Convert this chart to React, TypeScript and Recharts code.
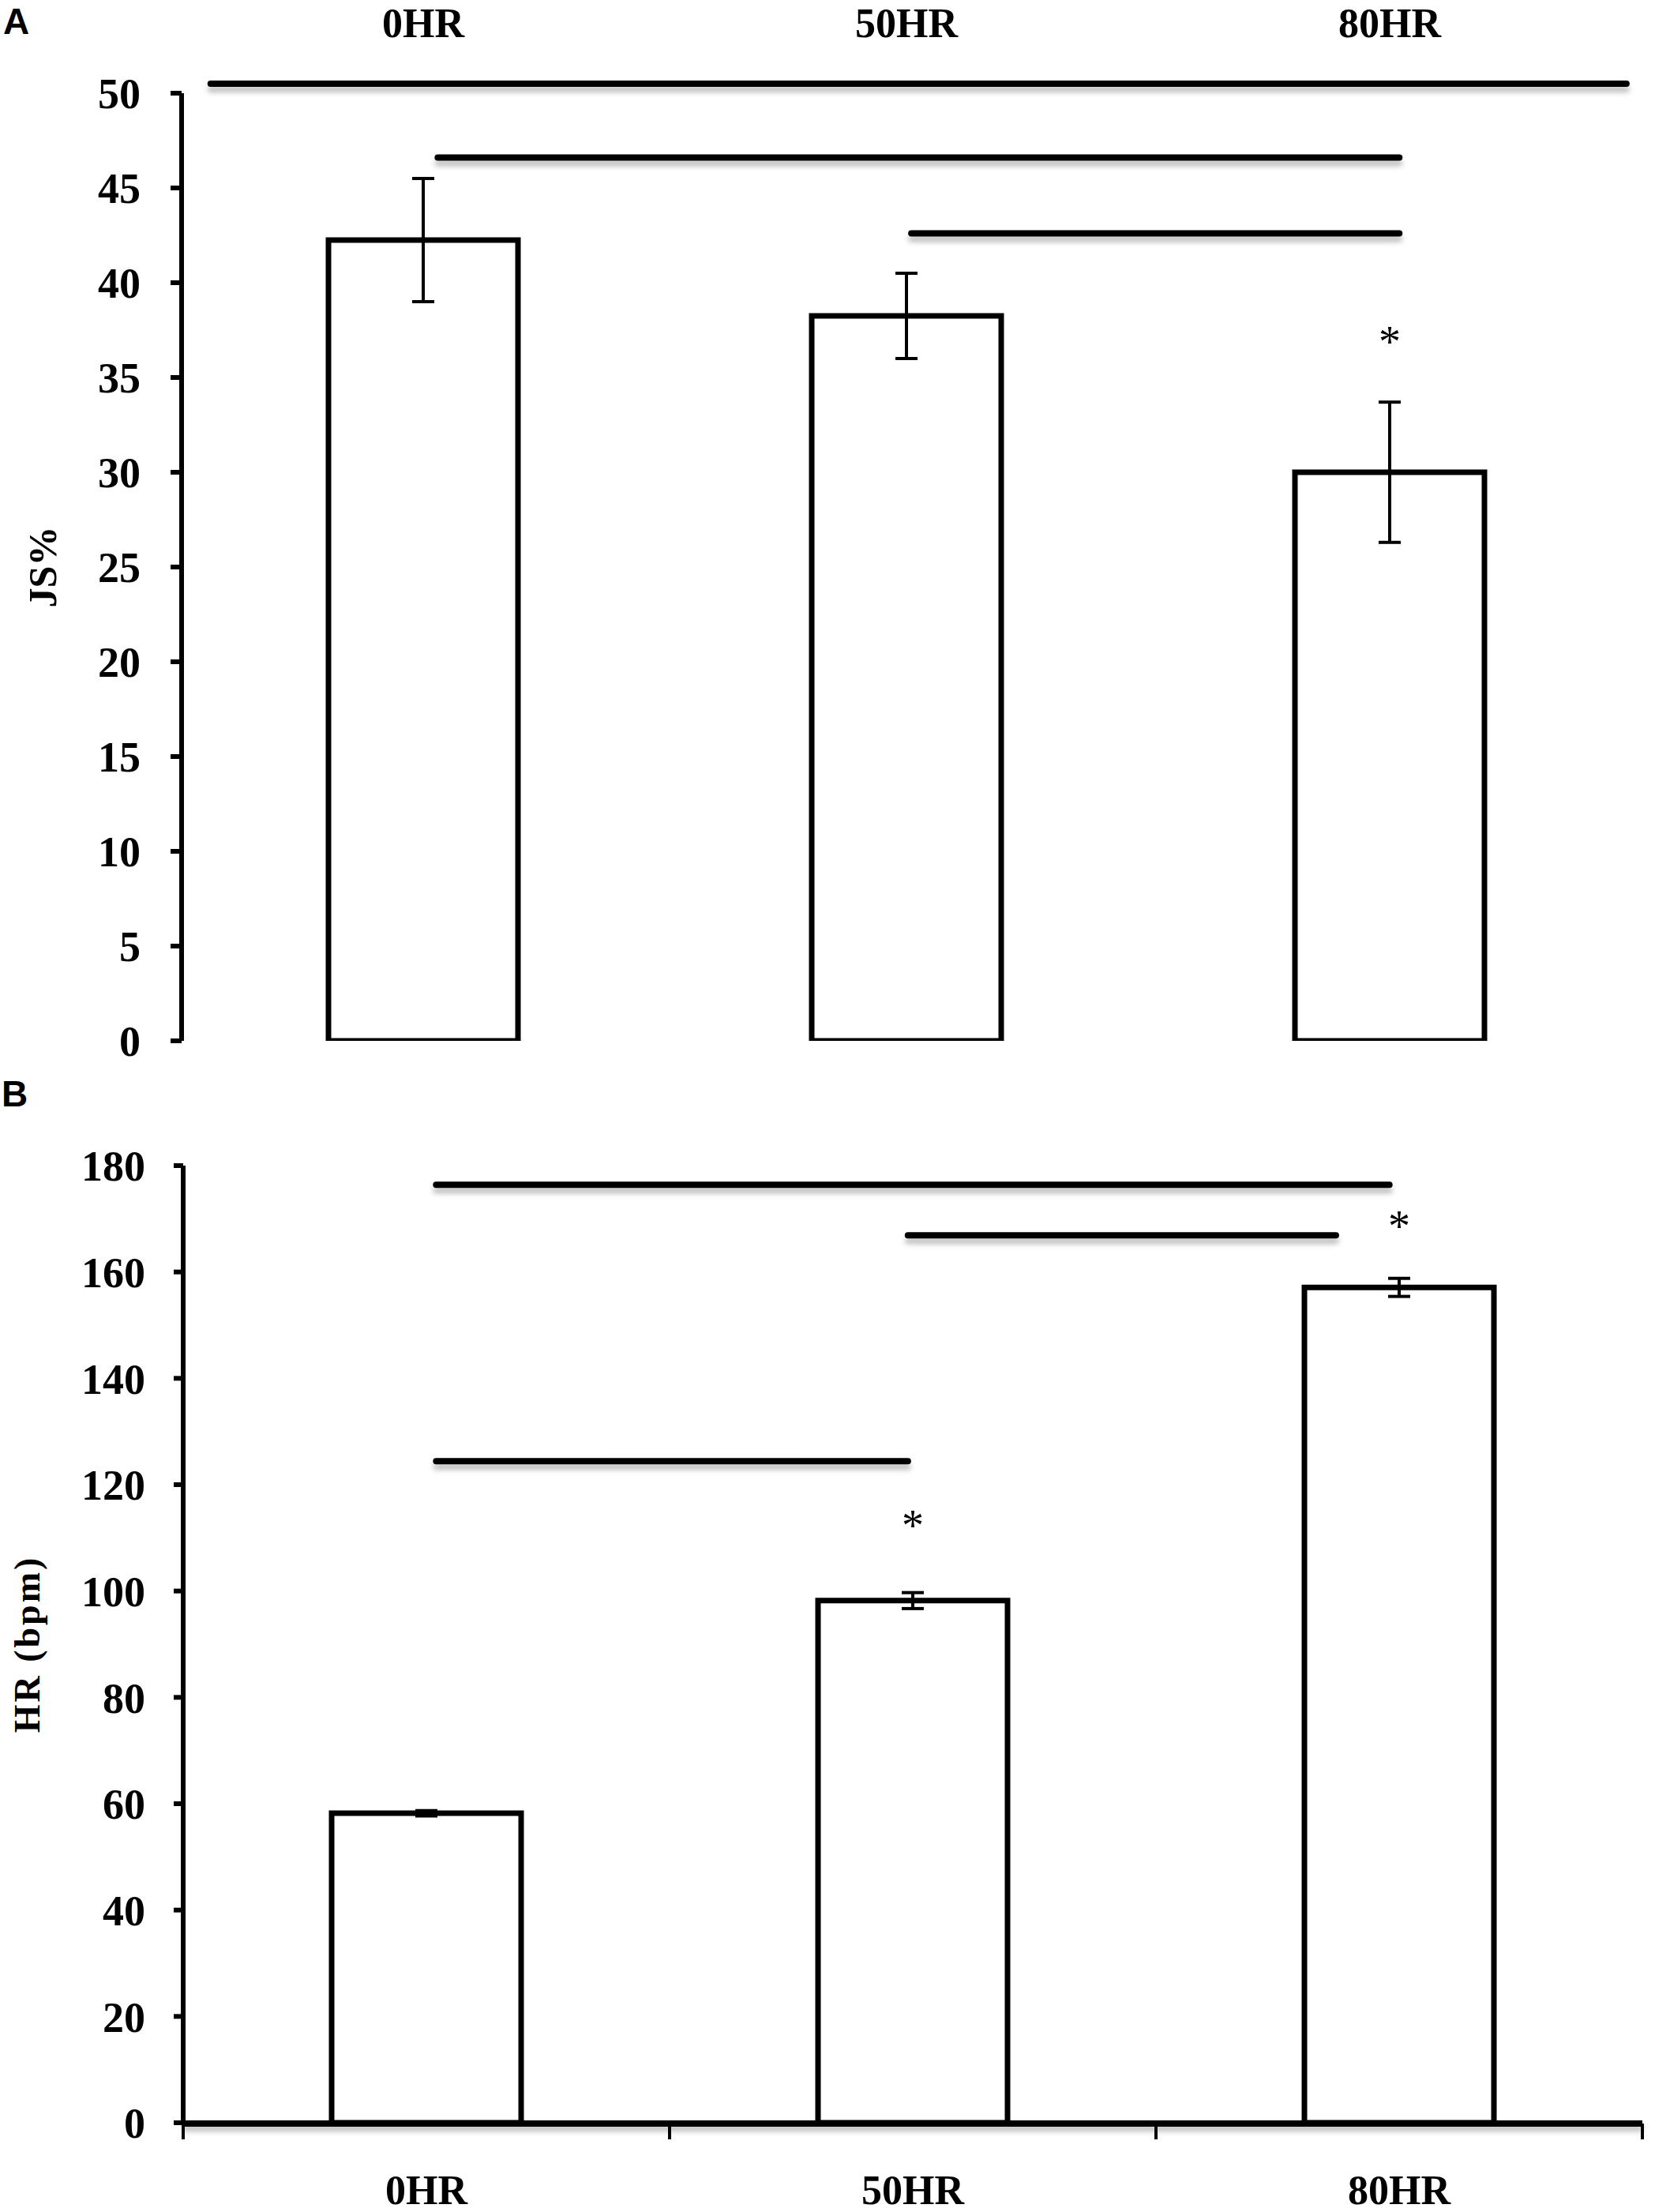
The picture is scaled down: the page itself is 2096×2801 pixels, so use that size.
import React from 'react';
import { ComposedChart, Bar, XAxis, YAxis, ErrorBar, ReferenceLine, Scatter, Label } from 'recharts';

// ---- data ----
const categories = ['0HR', '50HR', '80HR'];
// position of each category centre on the 0..3 boundary axis
const slots = [0.5, 1.5, 2.5];

// Panel A: JS%
const jsMean = [42.25, 38.25, 30.0];
const jsSd = [3.25, 2.25, 3.7];
const jsStar = [null, null, 37.2];
const jsTicks = [0, 5, 10, 15, 20, 25, 30, 35, 40, 45, 50];
// significance bars: [from, to, level] (x in category units, 0..3)
const jsSig = [
    [0.06, 2.99, 50.5],
    [0.53, 2.52, 46.6],
    [1.51, 2.52, 42.6],
];

// Panel B: HR (bpm)
const hrMean = [58.2, 98.2, 157.1];
const hrSd = [0.5, 1.5, 1.7];
const hrStar = [null, 113.5, 169.7];
const hrTicks = [0, 20, 40, 60, 80, 100, 120, 140, 160, 180];
const hrSig = [
    [0.52, 2.48, 176.4],
    [1.49, 2.37, 166.9],
    [0.52, 1.49, 124.4],
];

const boundaryTicks = [0, 1, 2, 3];

const jsData = categories.map((name, i) => ({ name, slot: slots[i], mean: jsMean[i], sd: jsSd[i], star: jsStar[i] }));
const hrData = categories.map((name, i) => ({ name, slot: slots[i], mean: hrMean[i], sd: hrSd[i], star: hrStar[i] }));

const SERIF = '"Liberation Serif", "Times New Roman", serif';
const SANS = '"Liberation Sans", Arial, sans-serif';

const tickStyle = { fill: '#000', fontSize: 54, fontWeight: 'bold', fontFamily: SERIF };

const TopTick = ({ x, y, payload }: any) => (
    <text x={x} y={y} dy={-71} textAnchor="middle" fontFamily={SERIF} fontWeight="bold" fontSize={52} fill="#000">
        {payload.value}
    </text>
);

const BottomTick = ({ x, y, payload }: any) => (
    <text x={x} y={y} dy={103} textAnchor="middle" fontFamily={SERIF} fontWeight="bold" fontSize={52} fill="#000">
        {payload.value}
    </text>
);

const renderStar = (props: any) => {
    if (!props.payload || props.payload.star == null) return <g />;
    return (
        <text x={props.cx} y={props.cy} dy={27} textAnchor="middle" fontFamily={SERIF} fontSize={56} fill="#000">
            *
        </text>
    );
};

const yLabel = (text: string, baseX: number, size: number, spacing: number) => (props: any) => {
    const vb = props.viewBox;
    const cx = vb.x + baseX;
    const cy = vb.y + vb.height / 2;
    return (
        <text
            x={cx}
            y={cy}
            transform={`rotate(-90 ${cx} ${cy})`}
            textAnchor="middle"
            fontFamily={SERIF}
            fontWeight="bold"
            fontSize={size}
            letterSpacing={spacing}
            fill="#000"
        >
            {text}
        </text>
    );
};

const sigLines = (rows: number[][]) =>
    rows.map((r, i) => (
        <ReferenceLine
            key={`sig-${i}`}
            xAxisId="sig"
            segment={[{ x: r[0], y: r[2] }, { x: r[1], y: r[2] }]}
            ifOverflow="visible"
            stroke="#000"
            strokeWidth={8}
            strokeLinecap="round"
            className="sig-line"
        />
    ));

export default function App() {
    return (
        <div style={{ position: 'absolute', top: 0, left: 0, width: 2096, height: 2801, background: '#fff' }}>
            <style>{`
                .sig-line { filter: drop-shadow(0px 7px 3px rgba(0,0,0,0.25)); }
                .base-axis .recharts-cartesian-axis-line { filter: drop-shadow(0px 6px 3px rgba(0,0,0,0.25)); }
            `}</style>

            <div style={{ position: 'absolute', left: 4, top: 4, fontFamily: SANS, fontWeight: 'bold', fontSize: 46, lineHeight: 1 }}>A</div>
            <div style={{ position: 'absolute', left: 2, top: 1362, fontFamily: SANS, fontWeight: 'bold', fontSize: 46, lineHeight: 1 }}>B</div>

            {/* Panel A: JS% */}
            <div style={{ position: 'absolute', left: 0, top: 0 }}>
                <ComposedChart width={2096} height={1360} data={jsData} margin={{ top: 0, right: 30, bottom: 42, left: 0 }}>
                    <XAxis xAxisId="cat" dataKey="name" orientation="top" height={118} axisLine={false} tickLine={false} tickSize={0} tickMargin={0} tick={<TopTick />} interval={0} />
                    <XAxis xAxisId="sig" dataKey="slot" type="number" domain={[0, 3]} hide allowDataOverflow />
                    <YAxis
                        domain={[0, 50]}
                        ticks={jsTicks}
                        width={230}
                        interval={0}
                        tickSize={14}
                        tickMargin={38}
                        axisLine={{ stroke: '#000', strokeWidth: 6 }}
                        tickLine={{ stroke: '#000', strokeWidth: 6 }}
                        tick={tickStyle}
                        allowDataOverflow
                    >
                        <Label content={yLabel('JS%', 71, 50, 0)} />
                    </YAxis>
                    {sigLines(jsSig)}
                    <Bar xAxisId="cat" dataKey="mean" fill="#fff" stroke="#000" strokeWidth={7} barSize={240} isAnimationActive={false}>
                        <ErrorBar dataKey="sd" width={14} strokeWidth={4} stroke="#000" isAnimationActive={false} />
                    </Bar>
                    <Scatter xAxisId="cat" dataKey="star" shape={renderStar} isAnimationActive={false} />
                </ComposedChart>
            </div>

            {/* Panel B: HR (bpm) */}
            <div style={{ position: 'absolute', left: 0, top: 1350 }}>
                <ComposedChart width={2096} height={1451} data={hrData} margin={{ top: 126, right: 16, bottom: 111, left: 0 }}>
                    <XAxis
                        xAxisId="sig"
                        dataKey="slot"
                        className="base-axis"
                        type="number"
                        domain={[0, 3]}
                        ticks={boundaryTicks}
                        interval={0}
                        height={1}
                        tickSize={20}
                        axisLine={{ stroke: '#000', strokeWidth: 8 }}
                        tickLine={{ stroke: '#000', strokeWidth: 4 }}
                        tickFormatter={() => ''}
                        allowDataOverflow
                    />
                    <XAxis xAxisId="cat" dataKey="name" height={1} axisLine={false} tickLine={false} tickSize={0} tickMargin={0} tick={<BottomTick />} interval={0} />
                    <YAxis
                        domain={[0, 180]}
                        ticks={hrTicks}
                        width={232}
                        interval={0}
                        tickSize={12}
                        tickMargin={36}
                        axisLine={{ stroke: '#000', strokeWidth: 6 }}
                        tickLine={{ stroke: '#000', strokeWidth: 6 }}
                        tick={tickStyle}
                        allowDataOverflow
                    >
                        <Label content={yLabel('HR (bpm)', 50, 46, 3)} />
                    </YAxis>
                    {sigLines(hrSig)}
                    <Bar xAxisId="cat" dataKey="mean" fill="#fff" stroke="#000" strokeWidth={7} barSize={240} isAnimationActive={false}>
                        <ErrorBar dataKey="sd" width={14} strokeWidth={4} stroke="#000" isAnimationActive={false} />
                    </Bar>
                    <Scatter xAxisId="cat" dataKey="star" shape={renderStar} isAnimationActive={false} />
                </ComposedChart>
            </div>
        </div>
    );
}
